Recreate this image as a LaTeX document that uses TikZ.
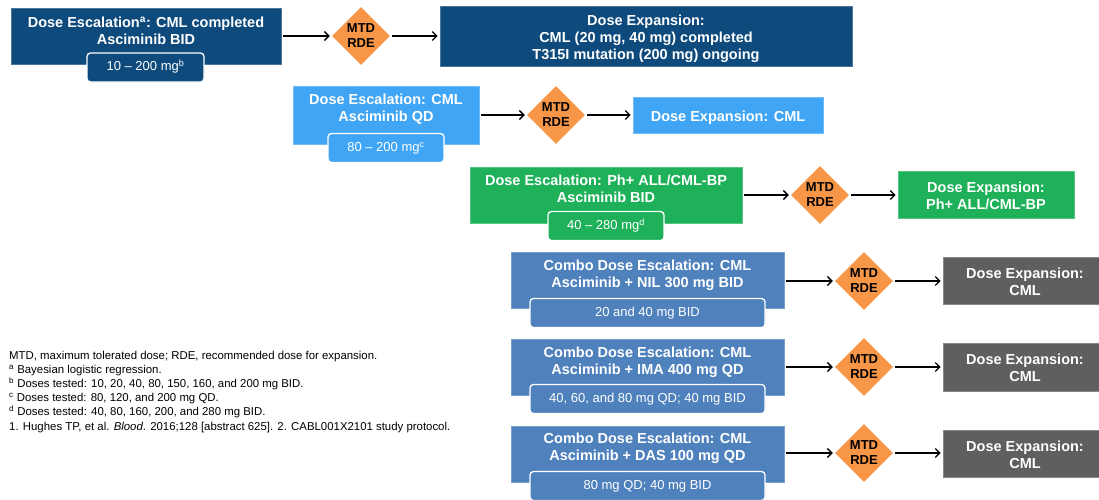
\documentclass[tikz,border=0pt]{standalone}
\usepackage{fontspec}
\setmainfont{Liberation Sans}
\usetikzlibrary{shapes.geometric,arrows.meta}
\definecolor{dkblue}{HTML}{0E4A7C}
\definecolor{ltblue}{HTML}{41A5F5}
\definecolor{grn}{HTML}{1EB15A}
\definecolor{stblue}{HTML}{4F81BD}
\definecolor{dgray}{HTML}{5F5F5F}
\definecolor{orng}{HTML}{F79646}
\begin{document}
\begin{tikzpicture}[x=1pt,y=-1pt,
 box/.style={rectangle, inner sep=0, draw=#1!75!white, line width=0.6pt, fill=#1},
 subbox/.style={rectangle, rounded corners=3.5pt, draw=white, line width=1.3pt, fill=#1, inner sep=0, text=white, font=\fontsize{13}{15}\selectfont, text height=9.4pt, text depth=2.6pt, minimum height=29pt},
 btext/.style={anchor=north, inner sep=0, align=center, text=white, font=\fontsize{14.5}{17}\selectfont\bfseries},
 dia/.style={diamond, fill=orng, inner sep=0, minimum width=58pt, minimum height=58pt, align=center, font=\fontsize{13}{15}\selectfont\bfseries},
 arr/.style={-{Straight Barb[length=4.5pt,width=9pt,line width=1.3pt]}, line width=1.3pt, black, shorten <=2pt, shorten >=2pt},
 foot/.style={anchor=base west, inner sep=0, font=\fontsize{11.4}{13.8}\selectfont, text=black}]
\useasboundingbox (0,0) rectangle (1099,499);
\clip (0,0) rectangle (1099,499);

% Row A
\node[box=dkblue, minimum width=270pt, minimum height=56pt] (a1) at (146,36) {};
\node[subbox=dkblue, minimum width=117pt] (a2) at (145.5,67.5) {10 – 200 mg\textsuperscript{b}};
\node[btext] (a1t) at (146,16.5) {Dose Escalation\textsuperscript{a}: CML completed\\Asciminib BID};
\node[dia] (ad) at (361,36) {MTD\\RDE};
\node[box=dkblue, minimum width=412pt, minimum height=60pt] (a3) at (646,36) {};
\node[btext] (a3t) at (646,14.5) {Dose Expansion:\\CML (20 mg, 40 mg) completed\\T315I mutation (200 mg) ongoing};
\draw[arr] (a1.east |- ad) -- (ad.west);
\draw[arr] (ad.east) -- (ad -| a3.west);

% Row B
\node[box=ltblue, minimum width=186pt, minimum height=58pt] (b1) at (386,115) {};
\node[subbox=ltblue, minimum width=116pt] (b2) at (386,148) {80 – 200 mg\textsuperscript{c}};
\node[btext] (b1t) at (386,93.5) {Dose Escalation: CML\\Asciminib QD};
\node[dia] (bd) at (556,115) {MTD\\RDE};
\node[box=ltblue, minimum width=190pt, minimum height=36pt] (b3) at (728,115) {};
\node[btext] (b3t) at (728,110.5) {Dose Expansion: CML};
\draw[arr] (b1.east |- bd) -- (bd.west);
\draw[arr] (bd.east) -- (bd -| b3.west);

% Row C
\node[box=grn, minimum width=272pt, minimum height=56pt] (c1) at (606,195) {};
\node[subbox=grn, minimum width=116pt] (c2) at (606,226) {40 – 280 mg\textsuperscript{d}};
\node[btext] (c1t) at (606,174.5) {Dose Escalation: Ph+ ALL/CML-BP\\Asciminib BID};
\node[dia] (cd) at (820,195) {MTD\\RDE};
\node[box=grn, minimum width=176pt, minimum height=47pt] (c3) at (986,194.5) {};
\node[btext] (c3t) at (986,181.5) {Dose Expansion:\\Ph+ ALL/CML-BP};
\draw[arr] (c1.east |- cd) -- (cd.west);
\draw[arr] (cd.east) -- (cd -| c3.west);

% Row D
\node[box=stblue, minimum width=273pt, minimum height=56pt] (d1) at (647.5,280) {};
\node[subbox=stblue, minimum width=235pt] (d2) at (647.5,313) {20 and 40 mg BID};
\node[btext] (d1t) at (647.5,259.5) {Combo Dose Escalation: CML\\Asciminib + NIL 300 mg BID};
\node[dia] (dd) at (864,281) {MTD\\RDE};
\node[box=dgray, minimum width=164pt, minimum height=47pt] (d3) at (1025,280.5) {};
\node[btext] (d3t) at (1025,267.5) {Dose Expansion:\\CML};
\draw[arr] (d1.east |- dd) -- (dd.west);
\draw[arr] (dd.east) -- (dd -| d3.west);

% Row E
\node[box=stblue, minimum width=273pt, minimum height=56pt] (e1) at (647.5,367) {};
\node[subbox=stblue, minimum width=235pt] (e2) at (647.5,399) {40, 60, and 80 mg QD; 40 mg BID};
\node[btext] (e1t) at (647.5,346.5) {Combo Dose Escalation: CML\\Asciminib + IMA 400 mg QD};
\node[dia] (ed) at (864,367) {MTD\\RDE};
\node[box=dgray, minimum width=164pt, minimum height=48pt] (e3) at (1025,367) {};
\node[btext] (e3t) at (1025,353.5) {Dose Expansion:\\CML};
\draw[arr] (e1.east |- ed) -- (ed.west);
\draw[arr] (ed.east) -- (ed -| e3.west);

% Row F
\node[box=stblue, minimum width=273pt, minimum height=56pt] (f1) at (647.5,454) {};
\node[subbox=stblue, minimum width=235pt] (f2) at (647.5,486) {80 mg QD; 40 mg BID};
\node[btext] (f1t) at (647.5,432.5) {Combo Dose Escalation: CML\\Asciminib + DAS 100 mg QD};
\node[dia] (fd) at (864,453) {MTD\\RDE};
\node[box=dgray, minimum width=164pt, minimum height=47pt] (f3) at (1025,453.5) {};
\node[btext] (f3t) at (1025,440.5) {Dose Expansion:\\CML};
\draw[arr] (f1.east |- fd) -- (fd.west);
\draw[arr] (fd.east) -- (fd -| f3.west);

% Footnotes
\node[foot] (n1) at (9,359.5) {MTD, maximum tolerated dose; RDE, recommended dose for expansion.};
\node[foot] (n2) at (9,373.6) {\textsuperscript{a} Bayesian logistic regression.};
\node[foot] (n3) at (9,387.7) {\textsuperscript{b} Doses tested: 10, 20, 40, 80, 150, 160, and 200 mg BID.};
\node[foot] (n4) at (9,401.8) {\textsuperscript{c} Doses tested: 80, 120, and 200 mg QD.};
\node[foot] (n5) at (9,415.9) {\textsuperscript{d} Doses tested: 40, 80, 160, 200, and 280 mg BID.};
\node[foot] (n6) at (9,430.0) {1. Hughes TP, et al. \textit{Blood}. 2016;128 [abstract 625]. 2. CABL001X2101 study protocol.};
\end{tikzpicture}
\end{document}
